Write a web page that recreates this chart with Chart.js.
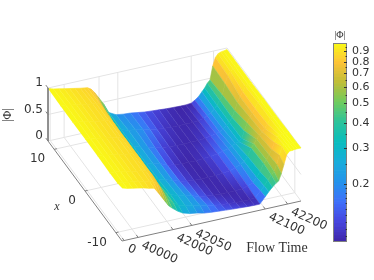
<!DOCTYPE html>
<html>
<head>
<meta charset="utf-8">
<title>Flow Time surface</title>
<script src="https://cdn.jsdelivr.net/npm/chart.js@4"></script>
<style>
    html, body { margin: 0; background: #fff; }
    #wrap { position: relative; width: 374px; height: 280px; overflow: hidden; }
    canvas { position: absolute; left: 0; top: 0; }
</style>
</head>
<body>
<div id="wrap">
    <canvas id="surfaceChart" width="374" height="280"></canvas>
    <canvas id="colorbarChart" width="374" height="280"></canvas>
</div>
<script>
// --- DATA ---
// position of each sample along the (non linear) Flow Time axis, 0 to 1
const flowPos = [0, .03, .06, .09, .12, .15, .18, .20, .22, .24, .26, .28, .31, .34, .38, .42, .46, .50, .54,
    .58, .62, .66, .70, .74, .77, .80, .82, .84, .86, .875, .89, .905, .92, .935, .95, .965, .98, 1];
const xStations = [12, 8, 4, 0, -4, -8, -10.5, -12];
// |Phi|, one row per x station
const phiX12 = [.99, .96, .94, .92, .90, .88, .86, .85, .84, .80, .72, .62, .47, .28, .21, .19, .18, .16, .14, .13, .12, .11, .105, .10, .10, .11, .15, .20, .28, .34, .42, .47, .72, .87, .93, .95, .96, .97];
const phiX8 = [.98, .97, .95, .93, .91, .89, .88, .87, .85, .76, .62, .48, .34, .27, .23, .21, .19, .16, .13, .118, .108, .105, .105, .105, .115, .135, .17, .21, .27, .33, .41, .50, .70, .84, .91, .95, .96, .97];
const phiX4 = [.98, .97, .95, .93, .91, .89, .88, .87, .84, .74, .60, .46, .33, .27, .23, .20, .16, .13, .115, .108, .105, .105, .108, .12, .14, .16, .18, .22, .27, .32, .40, .52, .66, .76, .84, .93, .96, .97];
const phiX0 = [.98, .97, .95, .93, .91, .89, .88, .87, .84, .74, .60, .46, .33, .27, .23, .20, .14, .118, .106, .103, .105, .115, .125, .145, .17, .20, .23, .26, .28, .33, .46, .60, .70, .76, .84, .95, .97, .98];
const phiXm4 = [.98, .97, .95, .93, .91, .89, .88, .87, .84, .74, .60, .46, .34, .28, .24, .20, .15, .125, .11, .104, .104, .108, .12, .14, .17, .21, .25, .33, .47, .54, .62, .68, .74, .79, .86, .95, .97, .98];
const phiXm8 = [.97, .97, .95, .93, .91, .89, .88, .87, .84, .74, .62, .50, .38, .30, .26, .23, .19, .15, .125, .11, .105, .104, .105, .115, .14, .18, .27, .36, .50, .56, .64, .73, .85, .94, .97, .98, .98, .99];
const phiXm10 = [.97, .97, .95, .93, .91, .89, .87, .85, .80, .70, .58, .47, .38, .30, .26, .24, .21, .18, .15, .13, .12, .11, .105, .105, .115, .22, .30, .40, .48, .54, .66, .82, .97, .98, .98, .99, .99, .99];
const phiXm12 = [1, .97, .95, .93, .91, .88, .86, .77, .67, .57, .47, .41, .33, .27, .23, .21, .18, .165, .155, .145, .135, .128, .12, .115, .115, .23, .31, .38, .44, .47, .60, .76, .93, .99, .99, 1, 1, 1];
const phiRows = [phiX12, phiX8, phiX4, phiX0, phiXm4, phiXm8, phiXm10, phiXm12];

const flowTickLabels = ['0', '40000', '42000', '42050', '42100', '42200'];
const flowTickPos = [.012, .09, .285, .39, .80, .925];
const xTicks = [10, 0, -10];
const zTicks = [0, .5, 1];
const zTickLabels = ['0', '0.5', '1'];
const barTicks = [.2, .3, .4, .5, .6, .7, .8, .9];
const barMinor = [.11, .12, .13, .14, .15, .16, .17, .18, .19, .25, .35, .45, .55, .65, .75, .85, .95];
const barMin = .103, barMax = .99;

// parula stops, even spacing from 0 to 1
const parula = [[62, 38, 168], [71, 69, 222], [62, 112, 250], [36, 147, 235], [24, 172, 219], [8, 188, 190],
    [44, 195, 155], [110, 203, 95], [190, 190, 55], [254, 195, 55], [249, 251, 21]];

const AXIS = '#808080', GRID = '#e4e4e4', TEXT = '#333333';
const SANS = '"DejaVu Sans"', SERIF = '"Liberation Serif"';

// --- HELPERS ---
// fixed view of the box: t 0..1, x 12..-12, z 0..1
function project(t, x, z) {
    const g = (12 - x) / 24;
    return { x: 48 + 179 * t + 74 * g, y: 141 - 40 * t + 100 * g - 53 * z };
}

function phiColor(v) {
    const t = Math.min(1, Math.max(0, Math.log(v / barMin) / Math.log(barMax / barMin))) * (parula.length - 1);
    const i = Math.min(parula.length - 2, Math.floor(t));
    const c = parula[i].map((a, k) => Math.round(a + (parula[i + 1][k] - a) * (t - i)));
    return `rgb(${c[0]},${c[1]},${c[2]})`;
}

function lineSet(points, color, width) {
    return { data: points, showLine: true, borderColor: color, borderWidth: width, pointRadius: 0, fill: false };
}

// shade a cell from its upper row to its lower row, so the rows do not show as steps
function cellShade(ctx, a, b, c, d, va, vb, vc, vd) {
    const ex = b.x - a.x, ey = b.y - a.y, len = Math.hypot(ex, ey) || 1;
    const nx = -ey / len, ny = ex / len;
    const mx = (a.x + b.x) / 2, my = (a.y + b.y) / 2;
    const dist = ((c.x + d.x) / 2 - mx) * nx + ((c.y + d.y) / 2 - my) * ny;
    const grad = ctx.createLinearGradient(mx, my, mx + nx * dist, my + ny * dist);
    grad.addColorStop(0, phiColor(Math.sqrt(va * vb)));
    grad.addColorStop(1, phiColor(Math.sqrt(vc * vd)));
    return grad;
}

// --- SURFACE, painter order: the first dataset ends up on top ---
const surfaceCtx = document.getElementById('surfaceChart').getContext('2d');
const surfaceSets = [];
for (let r = phiRows.length - 2; r >= 0; r--) {
    for (let i = 0; i < flowPos.length - 1; i++) {
        const v = [phiRows[r][i], phiRows[r][i + 1], phiRows[r + 1][i + 1], phiRows[r + 1][i]];
        const a = project(flowPos[i], xStations[r], v[0]);
        const b = project(flowPos[i + 1], xStations[r], v[1]);
        const c = project(flowPos[i + 1], xStations[r + 1], v[2]);
        const d = project(flowPos[i], xStations[r + 1], v[3]);
        const shade = cellShade(surfaceCtx, a, b, c, d, v[0], v[1], v[2], v[3]);
        surfaceSets.push({
            data: [a, b, c, d],
            showLine: true, fill: 'shape', backgroundColor: shade,
            borderColor: shade, borderWidth: .6, pointRadius: 0
        });
    }
}

// --- BOX: grid first, axis lines after ---
const boxSets = [];
flowTickPos.forEach(t => {
    boxSets.push(lineSet([project(t, -12, 0), project(t, 12, 0), project(t, 12, 1)], GRID, 1));
});
xTicks.forEach(x => {
    boxSets.push(lineSet([project(0, x, 0), project(1, x, 0), project(1, x, 1)], GRID, 1));
});
zTicks.forEach(z => {
    boxSets.push(lineSet([project(0, 12, z), project(1, 12, z), project(1, -12, z)], GRID, 1));
});
const axisSets = [
    lineSet([project(0, 12, 1), project(0, 12, 0), project(0, -12, 0), project(1, -12, 0)], AXIS, 1)
];
flowTickPos.forEach(t => {
    axisSets.push(lineSet([project(t, -12, 0), project(t, -11.4, 0)], AXIS, 1));
});
xTicks.forEach(x => {
    axisSets.push(lineSet([project(0, x, 0), project(.015, x, 0)], AXIS, 1));
});
zTicks.forEach(z => {
    axisSets.push(lineSet([project(0, 12, z), project(0, 12.7, z)], AXIS, 1));
});

function putText(ctx, text, px, py, font, align, angle) {
    ctx.save();
    ctx.translate(px, py);
    ctx.rotate(angle || 0);
    ctx.font = font;
    ctx.fillStyle = TEXT;
    ctx.textAlign = align;
    ctx.textBaseline = 'middle';
    ctx.fillText(text, 0, 0);
    ctx.restore();
}

const axisText = {
    id: 'axisText',
    afterDraw(chart) {
        const { ctx, scales } = chart;
        const at = p => ({ x: scales.x.getPixelForValue(p.x), y: scales.y.getPixelForValue(p.y) });
        flowTickLabels.forEach((label, i) => {
            const p = at(project(flowTickPos[i], -12, 0));
            putText(ctx, label, p.x + 4, p.y + 7.5, `12px ${SANS}`, 'left', 24 * Math.PI / 180);
        });
        xTicks.forEach(x => {
            const p = at(project(0, x, 0));
            putText(ctx, String(x), p.x - 9, p.y + 10, `12px ${SANS}`, 'right');
        });
        zTicks.forEach((z, i) => {
            const p = at(project(0, 12, z));
            putText(ctx, zTickLabels[i], p.x - 5, p.y - 5, `12px ${SANS}`, 'right');
        });
        putText(ctx, 'Flow Time', 277, 248, `14px ${SERIF}`, 'center');
        putText(ctx, 'x', 57, 207, `italic 12px ${SERIF}`, 'center');
        putText(ctx, '|Φ|', 8, 115, `12px ${SERIF}`, 'center', -Math.PI / 2);
    }
};

new Chart(document.getElementById('surfaceChart'), {
    type: 'scatter',
    data: { datasets: [...axisSets, ...surfaceSets, ...boxSets] },
    options: {
        responsive: false,
        animation: false,
        layout: { padding: 0 },
        plugins: { legend: { display: false }, tooltip: { enabled: false }, filler: { propagate: false } },
        scales: {
            x: { type: 'linear', min: 0, max: 374, display: false },
            y: { type: 'linear', min: 0, max: 280, reverse: true, display: false }
        }
    },
    plugins: [axisText]
});

// --- COLORBAR ---
const barSteps = 64;
const barSets = [];
for (let i = 0; i < barSteps; i++) {
    const lo = barMin * Math.pow(barMax / barMin, i / barSteps);
    const hi = barMin * Math.pow(barMax / barMin, (i + 1) / barSteps);
    barSets.push({ data: [[lo, hi]], backgroundColor: phiColor(Math.sqrt(lo * hi)), grouped: false, barPercentage: 1, categoryPercentage: 1 });
}

const barFrame = {
    id: 'barFrame',
    afterDraw(chart) {
        const { ctx, chartArea: a, scales } = chart;
        ctx.save();
        ctx.strokeStyle = AXIS;
        ctx.lineWidth = 1;
        ctx.strokeRect(a.left + .5, a.top + .5, a.right - a.left - 1, a.bottom - a.top - 1);
        ctx.strokeStyle = TEXT;
        barTicks.forEach(v => {
            const y = Math.round(scales.y.getPixelForValue(v)) + .5;
            ctx.beginPath(); ctx.moveTo(a.right - 3, y); ctx.lineTo(a.right, y); ctx.stroke();
        });
        barMinor.forEach(v => {
            const y = Math.round(scales.y.getPixelForValue(v)) + .5;
            ctx.beginPath(); ctx.moveTo(a.right - 1.5, y); ctx.lineTo(a.right, y); ctx.stroke();
        });
        ctx.restore();
        putText(ctx, '|Φ|', 340, 35, `10px ${SERIF}`, 'center');
    }
};

new Chart(document.getElementById('colorbarChart'), {
    type: 'bar',
    data: { labels: ['phi'], datasets: barSets },
    options: {
        responsive: false,
        animation: false,
        layout: { padding: { left: 333, top: 43, bottom: 38, right: 0 } },
        plugins: { legend: { display: false }, tooltip: { enabled: false } },
        scales: {
            x: { display: false },
            y: {
                type: 'logarithmic', position: 'right', min: barMin, max: barMax,
                afterBuildTicks: s => { s.ticks = barTicks.map(v => ({ value: v, major: true })); },
                afterFit: s => { s.width = 27; },
                grid: { display: false },
                border: { display: false },
                ticks: {
                    autoSkip: false, maxRotation: 0, padding: -3, color: TEXT,
                    font: { family: 'DejaVu Sans', size: 11 },
                    callback: v => String(v)
                }
            }
        }
    },
    plugins: [barFrame]
});
</script>
</body>
</html>
